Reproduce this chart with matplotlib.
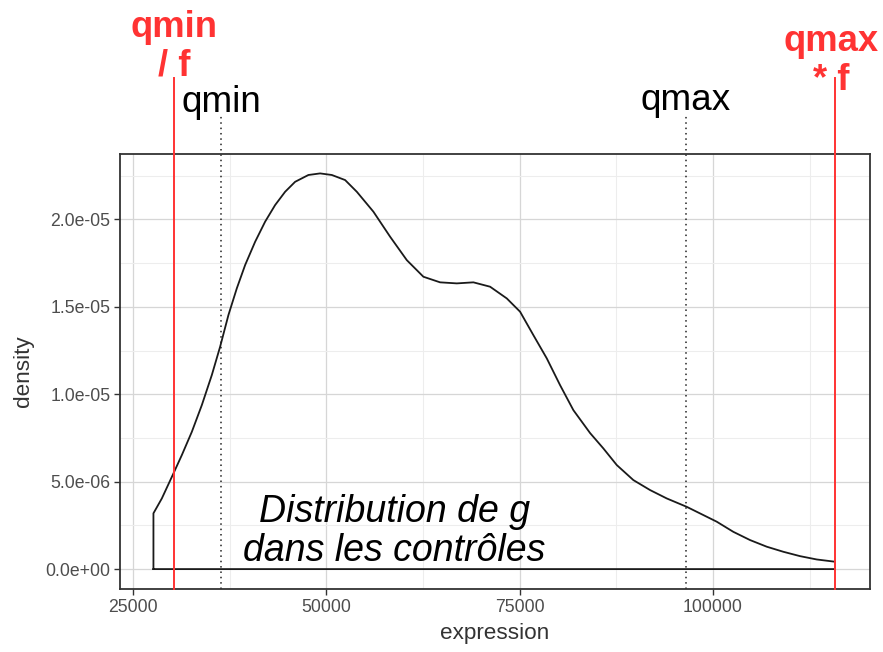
import matplotlib.pyplot as plt
from matplotlib.ticker import FixedLocator, FuncFormatter

# density curve of g in controls
dens_x = [27625, 28711, 30211, 31297, 32590, 33884, 35177, 36250, 37323, 38410,
          39483, 40776, 42069, 43362, 44655, 45948, 47668, 49181, 50694, 52414,
          53927, 56073, 58233, 60392, 62539, 64698, 66858, 69004, 71164, 73323,
          75043, 76763, 78496, 80215, 81935, 84095, 85815, 87547, 89694, 91853,
          94013, 96599, 98745, 100478, 102625, 104784, 106944, 109091, 111250,
          113409, 115776]
dens_y = [3.19, 4.04, 5.47, 6.52, 7.85, 9.38, 11.10, 12.72, 14.53, 16.06,
          17.39, 18.72, 19.87, 20.82, 21.58, 22.15, 22.54, 22.63, 22.54, 22.25,
          21.58, 20.44, 19.01, 17.67, 16.72, 16.40, 16.34, 16.40, 16.15, 15.48,
          14.72, 13.38, 12.05, 10.52, 9.09, 7.78, 6.90, 5.95, 5.09, 4.52,
          4.04, 3.56, 3.09, 2.71, 2.13, 1.66, 1.28, 0.99, 0.74,
          0.55, 0.42]
dens_y = [v * 1e-6 for v in dens_y]

qmin = 36379
qmax = 96509
qmin_f = 30302
qmax_f = 115776

x_ticks = [25000, 50000, 75000, 100000]
y_ticks = [0.0, 5e-6, 1e-5, 1.5e-5, 2e-5]

plt.rcParams['font.family'] = ['Liberation Sans', 'DejaVu Sans']

fig = plt.figure(figsize=(8.83, 6.52), dpi=100)
ax = fig.add_axes([0.1359, 0.0966, 0.8494, 0.6672])

# closed density outline like geom_density
px = [dens_x[0]] + dens_x + [dens_x[-1], dens_x[0]]
py = [0.0] + dens_y + [0.0, 0.0]
ax.plot(px, py, color='#1a1a1a', lw=1.3, zorder=3, solid_joinstyle='round')

trans = ax.get_xaxis_transform()
for q in (qmin, qmax):
    ax.plot([q, q], [0, 1.09], transform=trans, color='#222222', lw=1.1,
            linestyle=(0, (1, 2.5)), clip_on=False, zorder=2)
for q in (qmin_f, qmax_f):
    ax.plot([q, q], [0, 1.175], transform=trans, color='#ff3333', lw=1.4,
            clip_on=False, zorder=4)

ax.text(qmin, 1.078, 'qmin', transform=trans, ha='center', va='bottom',
        fontsize=26.6, color='black')
ax.text(qmax, 1.083, 'qmax', transform=trans, ha='center', va='bottom',
        fontsize=26.6, color='black')
ax.text(qmin_f, 1.161, 'qmin\n/ f', transform=trans, ha='center', va='bottom',
        fontsize=26.2, fontweight='bold', color='#ff3333', linespacing=1.15)
ax.text(qmax_f - 500, 1.129, 'qmax\n* f', transform=trans, ha='center',
        va='bottom', fontsize=26.2, fontweight='bold', color='#ff3333',
        linespacing=1.15)

ax.text(58750, 0.0, 'Distribution de g\ndans les contrôles', ha='center',
        va='bottom', fontsize=27, style='italic', color='black',
        linespacing=1.1, zorder=5)

ax.set_xlim(23300, 120300)
ax.set_ylim(-1.14e-6, 2.374e-5)
ax.xaxis.set_major_locator(FixedLocator(x_ticks))
ax.yaxis.set_major_locator(FixedLocator(y_ticks))
ax.xaxis.set_minor_locator(FixedLocator([37500, 62500, 87500, 112500]))
ax.yaxis.set_minor_locator(FixedLocator([2.5e-6, 7.5e-6, 1.25e-5, 1.75e-5, 2.25e-5]))
ax.yaxis.set_major_formatter(FuncFormatter(lambda v, p: '%.1e' % v))

ax.grid(which='major', color='#d6d6d6', lw=0.9)
ax.grid(which='minor', color='#ededed', lw=0.8)
ax.set_axisbelow(True)

for s in ax.spines.values():
    s.set_color('#333333')
    s.set_linewidth(1.3)
ax.tick_params(which='major', length=4, width=1.0, color='#333333',
               labelsize=12.7, labelcolor='#4d4d4d', pad=3)
ax.tick_params(which='minor', length=0)

ax.set_xlabel('expression', fontsize=16.2, color='#333333', labelpad=5)
ax.set_ylabel('density', fontsize=16.2, color='#333333', labelpad=8)

plt.savefig('out.png', dpi=100)
